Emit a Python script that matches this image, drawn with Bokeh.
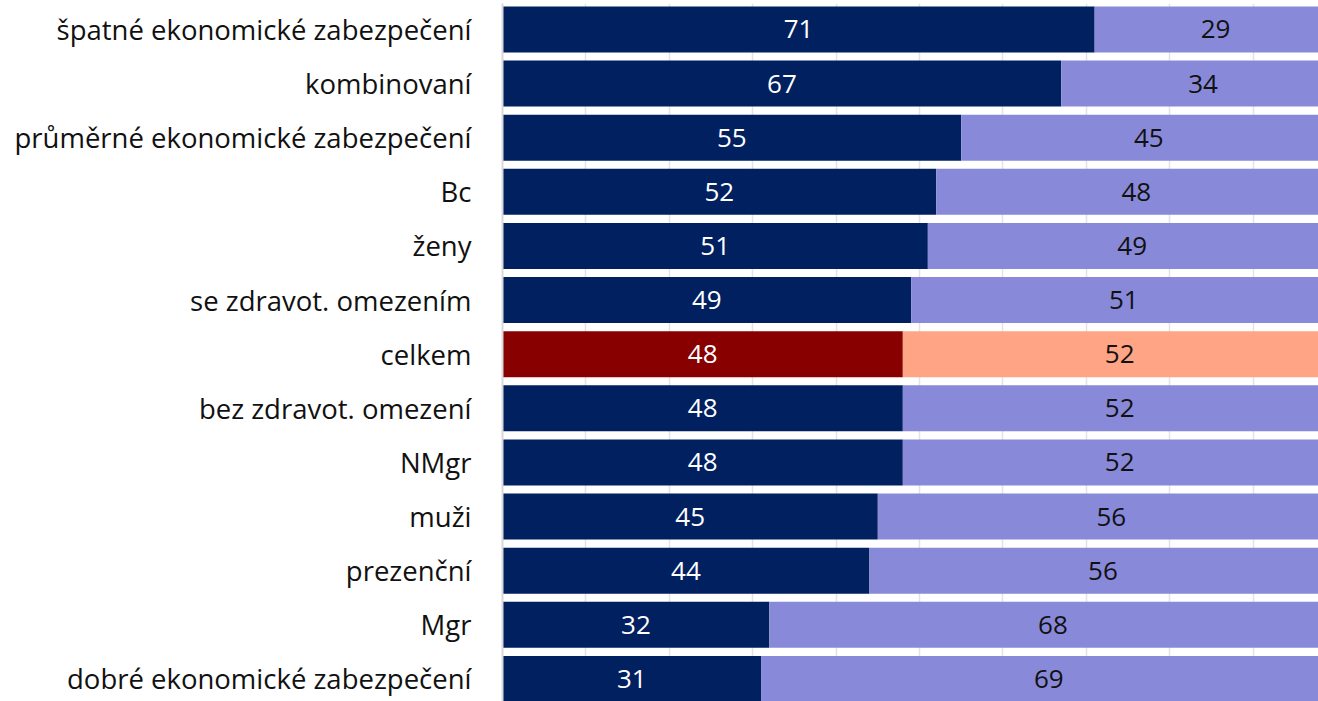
from bokeh.plotting import figure
from bokeh.models import Range1d, ColumnDataSource, FixedTicker, SingleIntervalTicker
from bokeh.core.properties import value
from bokeh.embed import file_html
from bokeh.resources import INLINE

categories = ["špatné ekonomické zabezpečení", "kombinovaní", "průměrné ekonomické zabezpečení",
              "Bc", "ženy", "se zdravot. omezením", "celkem", "bez zdravot. omezení", "NMgr",
              "muži", "prezenční", "Mgr", "dobré ekonomické zabezpečení"]
first_vals = [71, 67, 55, 52, 51, 49, 48, 48, 48, 45, 44, 32, 31]
second_vals = [29, 34, 45, 48, 49, 51, 52, 52, 52, 56, 56, 68, 69]
highlight = "celkem"

NAVY, LILAC = "#002060", "#8989D9"
DRED, SALMON = "#880000", "#FFA586"
FONT = "Open Sans"
FS_LABEL = "27.5px"
FS_VALUE = "26px"

ys = list(range(len(categories)))
c1 = [DRED if c == highlight else NAVY for c in categories]
c2 = [SALMON if c == highlight else LILAC for c in categories]
src = ColumnDataSource(dict(
    y=ys, a=first_vals, b=second_vals,
    b_end=[a + b for a, b in zip(first_vals, second_vals)],
    a_mid=[a / 2 for a in first_vals],
    b_mid=[a + b / 2 for a, b in zip(first_vals, second_vals)],
    la=[str(v) for v in first_vals], lb=[str(v) for v in second_vals],
    c1=c1, c2=c2,
))

p = figure(width=1318, height=701, output_backend="svg", toolbar_location=None,
           x_range=Range1d(0, 97.84), y_range=Range1d(12.416, -0.48),
           min_border_left=502, min_border_right=0, min_border_top=3, min_border_bottom=0)
p.outline_line_color = None
p.background_fill_color = "white"

p.hbar(y="y", left=0, right="a", height=0.85, fill_color="c1", line_color=None, source=src)
p.hbar(y="y", left="a", right="b_end", height=0.85, fill_color="c2", line_color=None, source=src)

p.text(x="a_mid", y="y", text="la", source=src, text_align="center", text_baseline="middle",
       text_color="white", text_font=value(FONT), text_font_size=FS_VALUE)
p.text(x="b_mid", y="y", text="lb", source=src, text_align="center", text_baseline="middle",
       text_color="#111111", text_font=value(FONT), text_font_size=FS_VALUE)

p.xaxis.visible = False
p.xgrid.ticker = SingleIntervalTicker(interval=10)
p.xgrid.grid_line_color = "#e3e3e3"
p.xgrid.grid_line_width = 1.5
p.ygrid.grid_line_color = None

ya = p.yaxis[0]
ya.ticker = FixedTicker(ticks=ys)
ya.major_label_overrides = {i: c for i, c in enumerate(categories)}
ya.major_tick_line_color = None
ya.minor_tick_line_color = None
ya.axis_line_color = "#d9d9d9"
ya.axis_line_width = 2
ya.major_label_text_font = FONT
ya.major_label_text_font_size = FS_LABEL
ya.major_label_text_color = "#111111"
ya.major_label_standoff = 25

open("out.html", "w").write(file_html(p, INLINE))
